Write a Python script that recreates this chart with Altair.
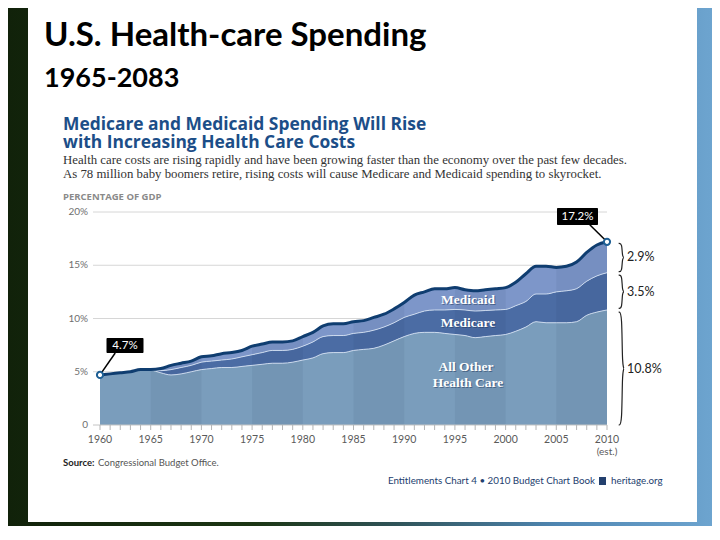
import altair as alt
import pandas as pd

# ---------------- data (percent of GDP) ----------------
years = list(range(1960, 2011))
other = [4.7, 4.8, 4.9, 5.0, 5.2, 5.2, 4.9, 4.7, 4.8, 5.0,
         5.2, 5.3, 5.4, 5.4, 5.5, 5.6, 5.7, 5.8, 5.8, 5.9,
         6.1, 6.3, 6.7, 6.8, 6.8, 7.0, 7.1, 7.2, 7.5, 7.9,
         8.3, 8.6, 8.7, 8.7, 8.6, 8.5, 8.4, 8.2, 8.3, 8.4,
         8.5, 8.8, 9.2, 9.7, 9.6, 9.6, 9.6, 9.7, 10.3, 10.6, 10.8]
medicare = [0, 0, 0, 0, 0, 0, 0.2, 0.5, 0.6, 0.6,
            0.7, 0.7, 0.7, 0.8, 0.9, 1.0, 1.1, 1.2, 1.2, 1.2,
            1.3, 1.5, 1.6, 1.6, 1.6, 1.6, 1.6, 1.7, 1.7, 1.7,
            1.8, 1.8, 2.0, 2.1, 2.2, 2.35, 2.4, 2.5, 2.45, 2.4,
            2.35, 2.4, 2.4, 2.6, 2.7, 2.9, 3.0, 3.1, 3.2, 3.4, 3.5]
medicaid = [0, 0, 0, 0, 0, 0, 0.2, 0.4, 0.4, 0.4,
            0.5, 0.5, 0.6, 0.6, 0.6, 0.8, 0.8, 0.8, 0.8, 0.8,
            0.9, 0.9, 1.0, 1.1, 1.1, 1.1, 1.1, 1.2, 1.2, 1.3,
            1.4, 1.8, 1.8, 2.0, 2.0, 2.05, 1.9, 1.9, 1.95, 2.0,
            2.05, 2.2, 2.6, 2.6, 2.6, 2.3, 2.3, 2.5, 2.7, 2.9, 2.9]

x_label_years = [1960, 1965, 1970, 1975, 1980, 1985, 1990, 1995, 2000, 2005, 2010]
x_label_text = ["1960", "1965", "1970", "1975", "1980", "1985", "1990", "1995", "2000", "2005", "2010"]
y_ticks = [0, 5, 10, 15, 20]
y_tick_text = ["0", "5%", "10%", "15%", "20%"]
grid_vals = [5, 10, 15, 20]
callout_years = [1960, 2010]
callout_text = ["4.7%", "17.2%"]
brace_ranges = [(17.06, 14.4), (14.08, 10.96), (10.6, 0.0)]
brace_text = ["2.9%", "3.5%", "10.8%"]

# ---------------- tables ----------------
df = pd.DataFrame({"year": years, "other": other, "medicare": medicare, "medicaid": medicaid})
df["zero"] = 0.0
df["b1"] = df["other"]
df["b2"] = df["b1"] + df["medicare"]
df["b3"] = df["b2"] + df["medicaid"]

bands = []
for b in [1, 3, 5, 7, 9]:
    sub = df[(df.year >= 1960 + 5 * b) & (df.year <= 1965 + 5 * b)].copy()
    sub["band"] = b
    bands.append(sub)
band_df = pd.concat(bands)

W, H = 704, 518
PX_YR = 10.14
PX_PCT = 10.65
X0, Y0 = 92, 417  # canvas pixel of (1960, 0%)
xs = alt.Scale(domain=[1960 - X0 / PX_YR, 1960 + (W - X0) / PX_YR], nice=False, zero=False)
ys = alt.Scale(domain=[-(H - Y0) / PX_PCT, Y0 / PX_PCT], nice=False, zero=False)

one = pd.DataFrame({"a": [0]})


def X(f):
    return alt.X(f, scale=xs, axis=None)


def Y(f):
    return alt.Y(f, scale=ys, axis=None)


def txt(x, y, s, **kw):
    return alt.Chart(one).mark_text(text=s, **kw).encode(x=alt.value(x), y=alt.value(y))


def box(x, x2, y, y2, **kw):
    return alt.Chart(one).mark_rect(**kw).encode(
        x=alt.value(x), x2=alt.value(x2), y=alt.value(y), y2=alt.value(y2))


grad = alt.LinearGradient(
    gradient="linear",
    stops=[alt.GradientStop(color="#11220a", offset=0),
           alt.GradientStop(color="#1c3614", offset=0.35),
           alt.GradientStop(color="#2f5358", offset=0.55),
           alt.GradientStop(color="#4f86b2", offset=0.78),
           alt.GradientStop(color="#6da4cf", offset=1)],
    x1=0, x2=1, y1=0, y2=0)

layers = []
layers.append(box(0, W, 0, H, fill=grad))
layers.append(box(20, 689, 0, 514, fill="white"))

# gridlines
layers.append(alt.Chart(pd.DataFrame({"g": grid_vals})).mark_rule(color="#d6d6d6", strokeWidth=1).encode(
    y=Y("g:Q"), x=alt.value(85), x2=alt.value(599)))

# areas
layers.append(alt.Chart(df).mark_area(color="#7a9dbc", interpolate="monotone").encode(
    x=X("year:Q"), y=Y("b1:Q"), y2="zero:Q"))
layers.append(alt.Chart(df).mark_area(color="#4b6ca4", interpolate="monotone").encode(
    x=X("year:Q"), y=Y("b2:Q"), y2="b1:Q"))
layers.append(alt.Chart(df).mark_area(color="#7d96c9", interpolate="monotone").encode(
    x=X("year:Q"), y=Y("b3:Q"), y2="b2:Q"))
layers.append(alt.Chart(band_df).mark_area(color="#0a2040", opacity=0.06, interpolate="monotone").encode(
    x=X("year:Q"), y=Y("b3:Q"), y2="zero:Q", detail="band:N"))

sep = df[df.year >= 1965]
for f in ["b1:Q", "b2:Q"]:
    layers.append(alt.Chart(sep).mark_line(color="#d3e0f2", strokeWidth=1, opacity=0.9,
                                           interpolate="monotone").encode(x=X("year:Q"), y=Y(f)))
layers.append(alt.Chart(df).mark_line(color="#0f3d70", strokeWidth=3, interpolate="monotone").encode(
    x=X("year:Q"), y=Y("b3:Q")))

# x axis: baseline, ticks, labels
layers.append(alt.Chart(one).mark_rule(color="#c4c4c4").encode(
    y=alt.value(Y0), x=alt.value(85), x2=alt.value(599)))
layers.append(alt.Chart(pd.DataFrame({"year": years})).mark_rule(color="#b5b5b5").encode(
    x=X("year:Q"), y=alt.value(Y0), y2=alt.value(Y0 + 5)))
layers.append(alt.Chart(pd.DataFrame({"year": x_label_years, "t": x_label_text})).mark_text(
    font="Lato", fontSize=10.5, color="#5a5a5a", baseline="middle").encode(
    x=X("year:Q"), y=alt.value(432), text="t:N"))
layers.append(alt.Chart(pd.DataFrame({"year": [2010], "t": ["(est.)"]})).mark_text(
    font="Lato", fontSize=10, color="#5a5a5a", baseline="middle").encode(
    x=X("year:Q"), y=alt.value(444), text="t:N"))

# y labels
layers.append(alt.Chart(pd.DataFrame({"v": y_ticks, "t": y_tick_text})).mark_text(
    font="Lato", fontSize=10, color="#6f6f6f", align="right", baseline="middle").encode(
    x=alt.value(80), y=Y("v:Q"), text="t:N"))

# callouts
cdf = df[df.year.isin(callout_years)].copy()
layers.append(alt.Chart(pd.DataFrame({"x": [1960, 1961.5], "y": [4.7, 6.76]})).mark_line(
    color="black", strokeWidth=1.5).encode(x=X("x:Q"), y=Y("y:Q")))
layers.append(alt.Chart(pd.DataFrame({"x": [2010, 2008.3], "y": [17.2, 18.8]})).mark_line(
    color="black", strokeWidth=1.5).encode(x=X("x:Q"), y=Y("y:Q")))
layers.append(box(98.5, 135.5, 330, 345, fill="black", cornerRadius=1))
layers.append(box(549, 590, 200, 217, fill="black", cornerRadius=1))
layers.append(txt(117, 338, callout_text[0], font="Lato", fontSize=11.5, color="white",
                  baseline="middle", align="center"))
layers.append(txt(569.5, 209, callout_text[1], font="Lato", fontSize=11.5, color="white",
                  baseline="middle", align="center"))
layers.append(alt.Chart(cdf).mark_point(filled=True, fill="white", stroke="#1e5f94", strokeWidth=2,
                                        size=38, opacity=1).encode(x=X("year:Q"), y=Y("b3:Q")))

# braces
rows = []
bx0, bw = 2011.15, 0.62
for k, (t, b) in enumerate(brace_ranges):
    m = (t + b) / 2
    pts = [(bx0, t), (bx0 + bw * 0.55, t), (bx0 + bw * 0.55, m), (bx0 + bw, m),
           (bx0 + bw * 0.55, m), (bx0 + bw * 0.55, b), (bx0, b)]
    for i, (px, py) in enumerate(pts):
        rows.append({"k": k, "i": i, "x": px, "y": py})
brace_df = pd.DataFrame(rows)
layers.append(alt.Chart(brace_df).mark_line(color="#222", strokeWidth=1.2, interpolate="basis").encode(
    x=X("x:Q"), y=Y("y:Q"), detail="k:N", order="i:Q"))
bl = pd.DataFrame({"y": [(t + b) / 2 for t, b in brace_ranges], "t": brace_text})
layers.append(alt.Chart(bl).mark_text(font="Lato", fontSize=12.5, color="#222", align="left",
                                      baseline="middle").encode(x=alt.value(619), y=Y("y:Q"), text="t:N"))

# area labels
for (lx, ly, s) in [(460, 292, "Medicaid"), (460, 315, "Medicare"), (458, 359, "All Other"),
                    (460, 375, "Health Care")]:
    layers.append(txt(lx + 1, ly + 1, s, font="Liberation Serif", fontSize=13.5, fontWeight="bold",
                      color="#1d3557", opacity=0.5, align="center", baseline="middle"))
    layers.append(txt(lx, ly, s, font="Liberation Serif", fontSize=13.5, fontWeight="bold",
                      color="white", align="center", baseline="middle"))

# slide titles
layers.append(txt(36, 38, "U.S. Health-care Spending", font="Lato", fontSize=33, fontWeight="bold",
                  color="black", align="left", baseline="alphabetic"))
layers.append(txt(36, 79, "1965-2083", font="Lato", fontSize=27, fontWeight="bold",
                  color="black", align="left", baseline="alphabetic"))

# inner chart texts
layers.append(txt(55, 122, "Medicare and Medicaid Spending Will Rise", font="Open Sans", fontSize=17.4,
                  fontWeight="bold", color="#1c4e88", align="left", baseline="alphabetic"))
layers.append(txt(55, 140, "with Increasing Health Care Costs", font="Open Sans", fontSize=17.4,
                  fontWeight="bold", color="#1c4e88", align="left", baseline="alphabetic"))
layers.append(txt(55, 156, "Health care costs are rising rapidly and have been growing faster than the economy over the past few decades.",
                  font="Liberation Serif", fontSize=12.8, color="#333", align="left", baseline="alphabetic"))
layers.append(txt(55, 170, "As 78 million baby boomers retire, rising costs will cause Medicare and Medicaid spending to skyrocket.",
                  font="Liberation Serif", fontSize=12.8, color="#333", align="left", baseline="alphabetic"))
layers.append(txt(55, 192, "PERCENTAGE OF GDP", font="Open Sans", fontSize=9.5, fontWeight="bold",
                  color="#8a8a8a", align="left", baseline="alphabetic"))
layers.append(txt(55, 458, "Source:", font="Lato", fontSize=9.5, fontWeight="bold",
                  color="#222", align="left", baseline="alphabetic"))
layers.append(txt(90, 458, "Congressional Budget Office.", font="Lato", fontSize=9.5,
                  color="#555", align="left", baseline="alphabetic"))
layers.append(txt(587, 476, "Entitlements Chart 4 \u2022 2010 Budget Chart Book", font="Lato", fontSize=9.8,
                  color="#23406e", align="right", baseline="alphabetic"))
layers.append(box(591, 598, 469, 477, fill="#23406e"))
layers.append(txt(603, 476, "heritage.org", font="Lato", fontSize=9.8,
                  color="#23406e", align="left", baseline="alphabetic"))

chart = alt.layer(*layers).properties(
    width=W, height=H, padding=0,
    autosize=alt.AutoSizeParams(type="none"),
).configure_view(stroke=None).configure(background="#1c3614")

chart.save("out.html", embed_options={"renderer": "svg", "actions": False})
